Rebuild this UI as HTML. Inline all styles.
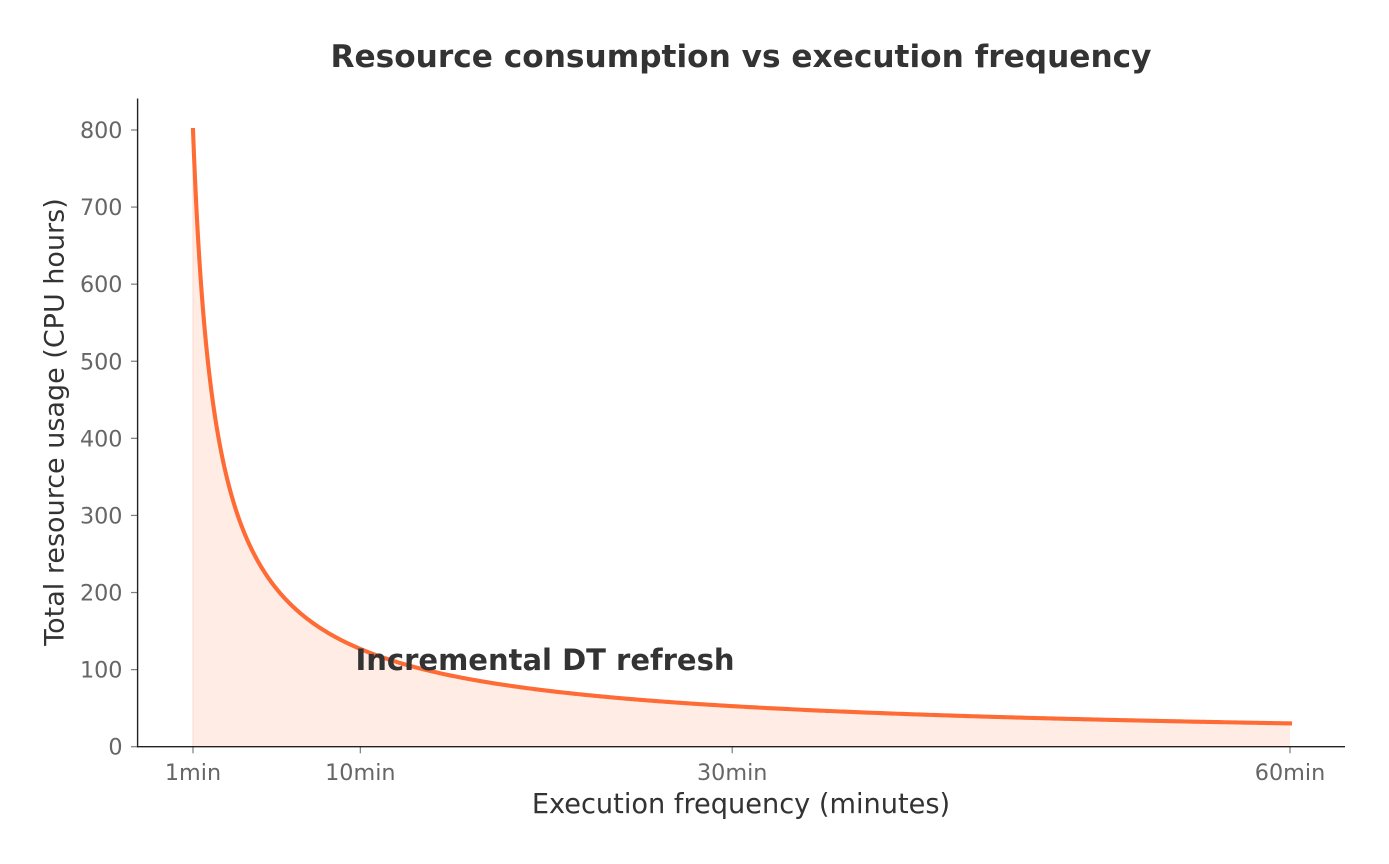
<!DOCTYPE html>
<html>
<head>
<meta charset="utf-8">
<style>
html,body{margin:0;padding:0;background:#fff;}
svg{display:block;}
text{font-family:"DejaVu Sans","Liberation Sans",sans-serif;}
</style>
</head>
<body>
<svg id="c" width="1389" height="864" viewBox="0 0 1389 864" xmlns="http://www.w3.org/2000/svg">
  <rect width="1389" height="864" fill="#fff"/>
  <path id="fill" d="" fill="#ffece5" stroke="none"/>
  <line x1="193" y1="130" x2="193" y2="746.7" stroke="#ffd9cc" stroke-width="1"/>
  <path id="line" d="" fill="none" stroke="#ff6b35" stroke-width="4.1" stroke-linecap="square" stroke-linejoin="round"/>
  <g id="yticks" stroke="#808080" stroke-width="1.25"></g>
  <g id="ylabels" fill="#666" font-size="22.3" text-anchor="end"></g>
  <g id="xticks" stroke="#808080" stroke-width="1.25"></g>
  <g id="xlabels" fill="#666" font-size="22.3" text-anchor="middle"></g>
  <line x1="137.6" y1="98.5" x2="137.6" y2="747.3" stroke="#222" stroke-width="1.4"/>
  <line x1="137" y1="746.7" x2="1345" y2="746.7" stroke="#222" stroke-width="1.4"/>
  <text x="330.5" y="67" font-size="31" font-weight="bold" fill="#333" textLength="821" lengthAdjust="spacingAndGlyphs">Resource consumption vs execution frequency</text>
  <text x="741" y="813" font-size="27.2" fill="#333" text-anchor="middle">Execution frequency (minutes)</text>
  <text transform="translate(63.5,422) rotate(-90)" font-size="27" fill="#333" text-anchor="middle">Total resource usage (CPU hours)</text>
  <text x="355.5" y="670" font-size="29" font-weight="bold" fill="#333" textLength="379" lengthAdjust="spacingAndGlyphs">Incremental DT refresh</text>
</svg>
<script>
(function(){
  var NS="http://www.w3.org/2000/svg";
  function px(x){return 193+(x-1)*18.5932;}
  function py(v){return 746.7-v*0.77088;}
  function f(x){return 800*Math.pow(x,-0.8);}
  var pts=[];
  var N=600;
  for(var i=0;i<=N;i++){
    var t=i/N;
    var x=1+59*Math.pow(t,2);
    pts.push([px(x),py(f(x))]);
  }
  var d="M"+pts.map(function(p){return p[0].toFixed(2)+","+p[1].toFixed(2);}).join(" L");
  document.getElementById("line").setAttribute("d",d);
  document.getElementById("fill").setAttribute("d",d+" L"+px(60).toFixed(2)+",746.7 L193,746.7 Z");
  var yt=document.getElementById("yticks"), yl=document.getElementById("ylabels");
  for(var v=0;v<=800;v+=100){
    var y=py(v);
    var l=document.createElementNS(NS,"line");
    l.setAttribute("x1",131);l.setAttribute("x2",137.6);
    l.setAttribute("y1",y);l.setAttribute("y2",y);
    yt.appendChild(l);
    var tx=document.createElementNS(NS,"text");
    tx.setAttribute("x",122.5);tx.setAttribute("y",y+8);
    tx.textContent=String(v);
    yl.appendChild(tx);
  }
  var xt=document.getElementById("xticks"), xl=document.getElementById("xlabels");
  [[1,"1min"],[10,"10min"],[30,"30min"],[60,"60min"]].forEach(function(a){
    var x=px(a[0]);
    var l=document.createElementNS(NS,"line");
    l.setAttribute("x1",x);l.setAttribute("x2",x);
    l.setAttribute("y1",746.7);l.setAttribute("y2",753.3);
    xt.appendChild(l);
    var tx=document.createElementNS(NS,"text");
    tx.setAttribute("x",x);tx.setAttribute("y",779.8);
    tx.textContent=a[1];
    xl.appendChild(tx);
  });
})();
</script>
</body>
</html>
